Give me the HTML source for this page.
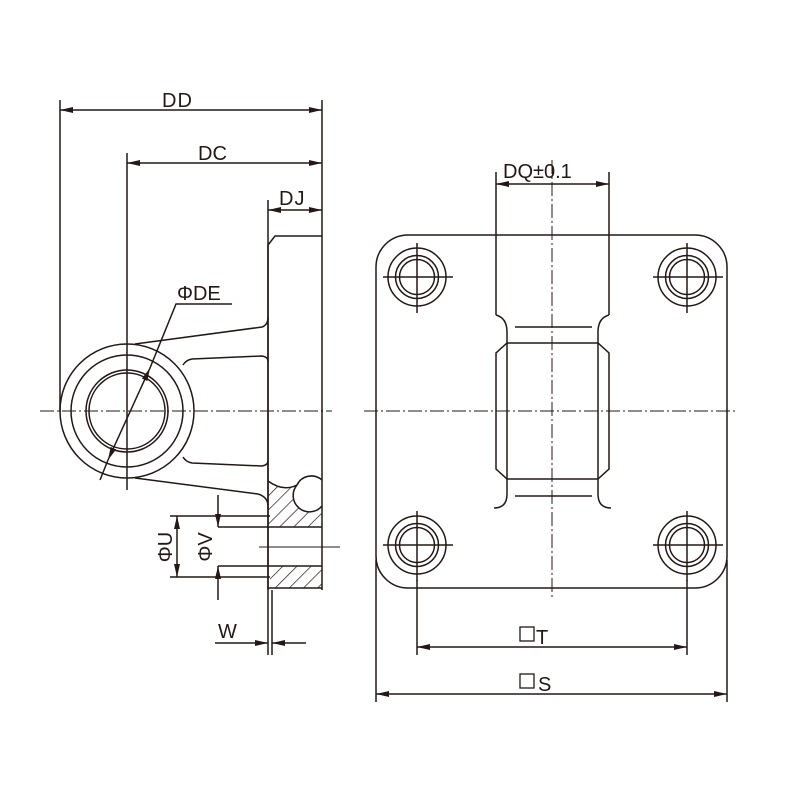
<!DOCTYPE html>
<html><head><style>html,body{margin:0;padding:0;background:#fff}svg{display:block}</style></head><body>
<svg width="800" height="800" viewBox="0 0 800 800" xmlns="http://www.w3.org/2000/svg">
<defs>
<marker id="a" viewBox="0 0 13 6" refX="13" refY="3" markerWidth="13" markerHeight="6" orient="auto-start-reverse" markerUnits="userSpaceOnUse"><path d="M0,0L13,3L0,6z" fill="#231815"/></marker>
<pattern id="h" width="10" height="10" patternUnits="userSpaceOnUse" patternTransform="rotate(45)"><line x1="0" y1="0" x2="0" y2="10" stroke="#231815" stroke-width="1.4"/></pattern>
</defs>
<g fill="none" stroke="#231815" stroke-width="1.5" font-family="Liberation Sans, sans-serif">
<line x1="60" y1="100" x2="60" y2="412"/>
<line x1="127" y1="153" x2="127" y2="490"/>
<line x1="322" y1="100" x2="322" y2="590"/>
<line x1="268" y1="200" x2="268" y2="655"/>
<line x1="272" y1="590" x2="272" y2="655"/>
<line x1="60" y1="110" x2="322" y2="110" marker-start="url(#a)" marker-end="url(#a)"/>
<line x1="127" y1="163" x2="322" y2="163" marker-start="url(#a)" marker-end="url(#a)"/>
<line x1="268" y1="210" x2="322" y2="210" marker-start="url(#a)" marker-end="url(#a)"/>
<path d="M268,590 L268,245 L275,236 L322,236"/>
<line x1="268" y1="588" x2="322" y2="588"/>
<circle cx="127" cy="411" r="67"/>
<circle cx="127" cy="411" r="56"/>
<circle cx="127" cy="411" r="41"/>
<circle cx="127" cy="411" r="38"/>
<path d="M135,344 L262,327 Q268,325 268,317"/>
<path d="M183,365 Q186,360 192,359 L262,356 Q268,357 268,361"/>
<path d="M183,457 Q186,462 192,463 L262,466 Q268,465 268,461"/>
<path d="M135,478 L258,494 Q268,497 268,506"/>
<path d="M268,481 Q283,492 297,485 A16,16 0 0 0 322,506 L322,527 L268,527 Z" fill="url(#h)" stroke="none"/>
<path d="M268,481 Q283,492 297,485"/>
<path d="M297,485 A16,16 0 0 1 322,480"/>
<path d="M297,485 A16,16 0 0 0 322,506"/>
<path d="M270,566 L322,566 L322,588 L278,588 Q270,588 270,580 Z" fill="url(#h)" stroke="none"/>
<line x1="218" y1="527" x2="322" y2="527"/>
<line x1="218" y1="566" x2="322" y2="566"/>
<line x1="170" y1="516" x2="270" y2="516"/>
<line x1="170" y1="577" x2="270" y2="577"/>
<line x1="259" y1="547" x2="340" y2="547" stroke-width="1"/>
<line x1="177" y1="516" x2="177" y2="577" marker-start="url(#a)" marker-end="url(#a)"/>
<line x1="218" y1="495" x2="218" y2="527" marker-end="url(#a)"/>
<line x1="218" y1="600" x2="218" y2="566" marker-end="url(#a)"/>
<line x1="215" y1="643" x2="268" y2="643" marker-end="url(#a)"/>
<line x1="306" y1="643" x2="272" y2="643" marker-end="url(#a)"/>
<line x1="100" y1="480" x2="108" y2="460"/>
<line x1="108" y1="460" x2="150" y2="368" marker-start="url(#a)" marker-end="url(#a)"/>
<polyline points="150,368 176,304 232,304"/>
<line x1="40" y1="411" x2="332" y2="411" stroke-width="1" stroke-dasharray="14,3,2,3"/>
<line x1="364" y1="411" x2="737" y2="411" stroke-width="1" stroke-dasharray="14,3,2,3"/>
<line x1="552" y1="160" x2="552" y2="598" stroke-width="1" stroke-dasharray="14,3,2,3"/>
<rect x="376" y="235" width="351" height="353" rx="32"/>
<g id="hole">
<circle cx="417" cy="277" r="29"/><circle cx="417" cy="277" r="21.5"/><circle cx="417" cy="277" r="17.5"/>
<line x1="383" y1="277" x2="453" y2="277"/><line x1="417" y1="243" x2="417" y2="313"/>
</g>
<use href="#hole" x="270"/><use href="#hole" y="268"/><use href="#hole" x="270" y="268"/>
<line x1="496" y1="172" x2="496" y2="315"/>
<line x1="609" y1="172" x2="609" y2="315"/>
<line x1="496" y1="184" x2="609" y2="184" marker-start="url(#a)" marker-end="url(#a)"/>
<path d="M496,315 Q507,318 507,332 L507,494 Q507,508 494,508"/>
<path d="M609,315 Q598,318 598,332 L598,494 Q598,508 611,508"/>
<path d="M507,343 L598,343 L609,353 L609,469 L598,479 L507,479 L496,469 L496,353 Z"/>
<line x1="515" y1="327" x2="592" y2="327"/>
<line x1="515" y1="496" x2="592" y2="496"/>
<line x1="417" y1="580" x2="417" y2="655"/>
<line x1="687" y1="580" x2="687" y2="655"/>
<line x1="376" y1="560" x2="376" y2="702"/>
<line x1="727" y1="560" x2="727" y2="702"/>
<line x1="417" y1="647" x2="687" y2="647" marker-start="url(#a)" marker-end="url(#a)"/>
<line x1="376" y1="694" x2="727" y2="694" marker-start="url(#a)" marker-end="url(#a)"/>
</g>
<g fill="#231815" font-family="Liberation Sans, DejaVu Sans, sans-serif" font-size="20">
<text x="162" y="107" letter-spacing="1">DD</text>
<text x="198" y="160">DC</text>
<text x="279" y="205" letter-spacing="1">DJ</text>
<text x="177" y="300">ΦDE</text>
<text x="503" y="178">DQ±0.1</text>
<text x="218" y="638">W</text>
<text x="536" y="644">T</text>
<text x="538" y="691">S</text>
<text transform="translate(172,547) rotate(-90)" text-anchor="middle">ΦU</text>
<text transform="translate(212,547) rotate(-90)" text-anchor="middle">ΦV</text>
</g>
<rect x="520" y="627" width="14" height="14" fill="none" stroke="#231815" stroke-width="1.3"/>
<rect x="520" y="674" width="14" height="14" fill="none" stroke="#231815" stroke-width="1.3"/>
</svg>
</body></html>
